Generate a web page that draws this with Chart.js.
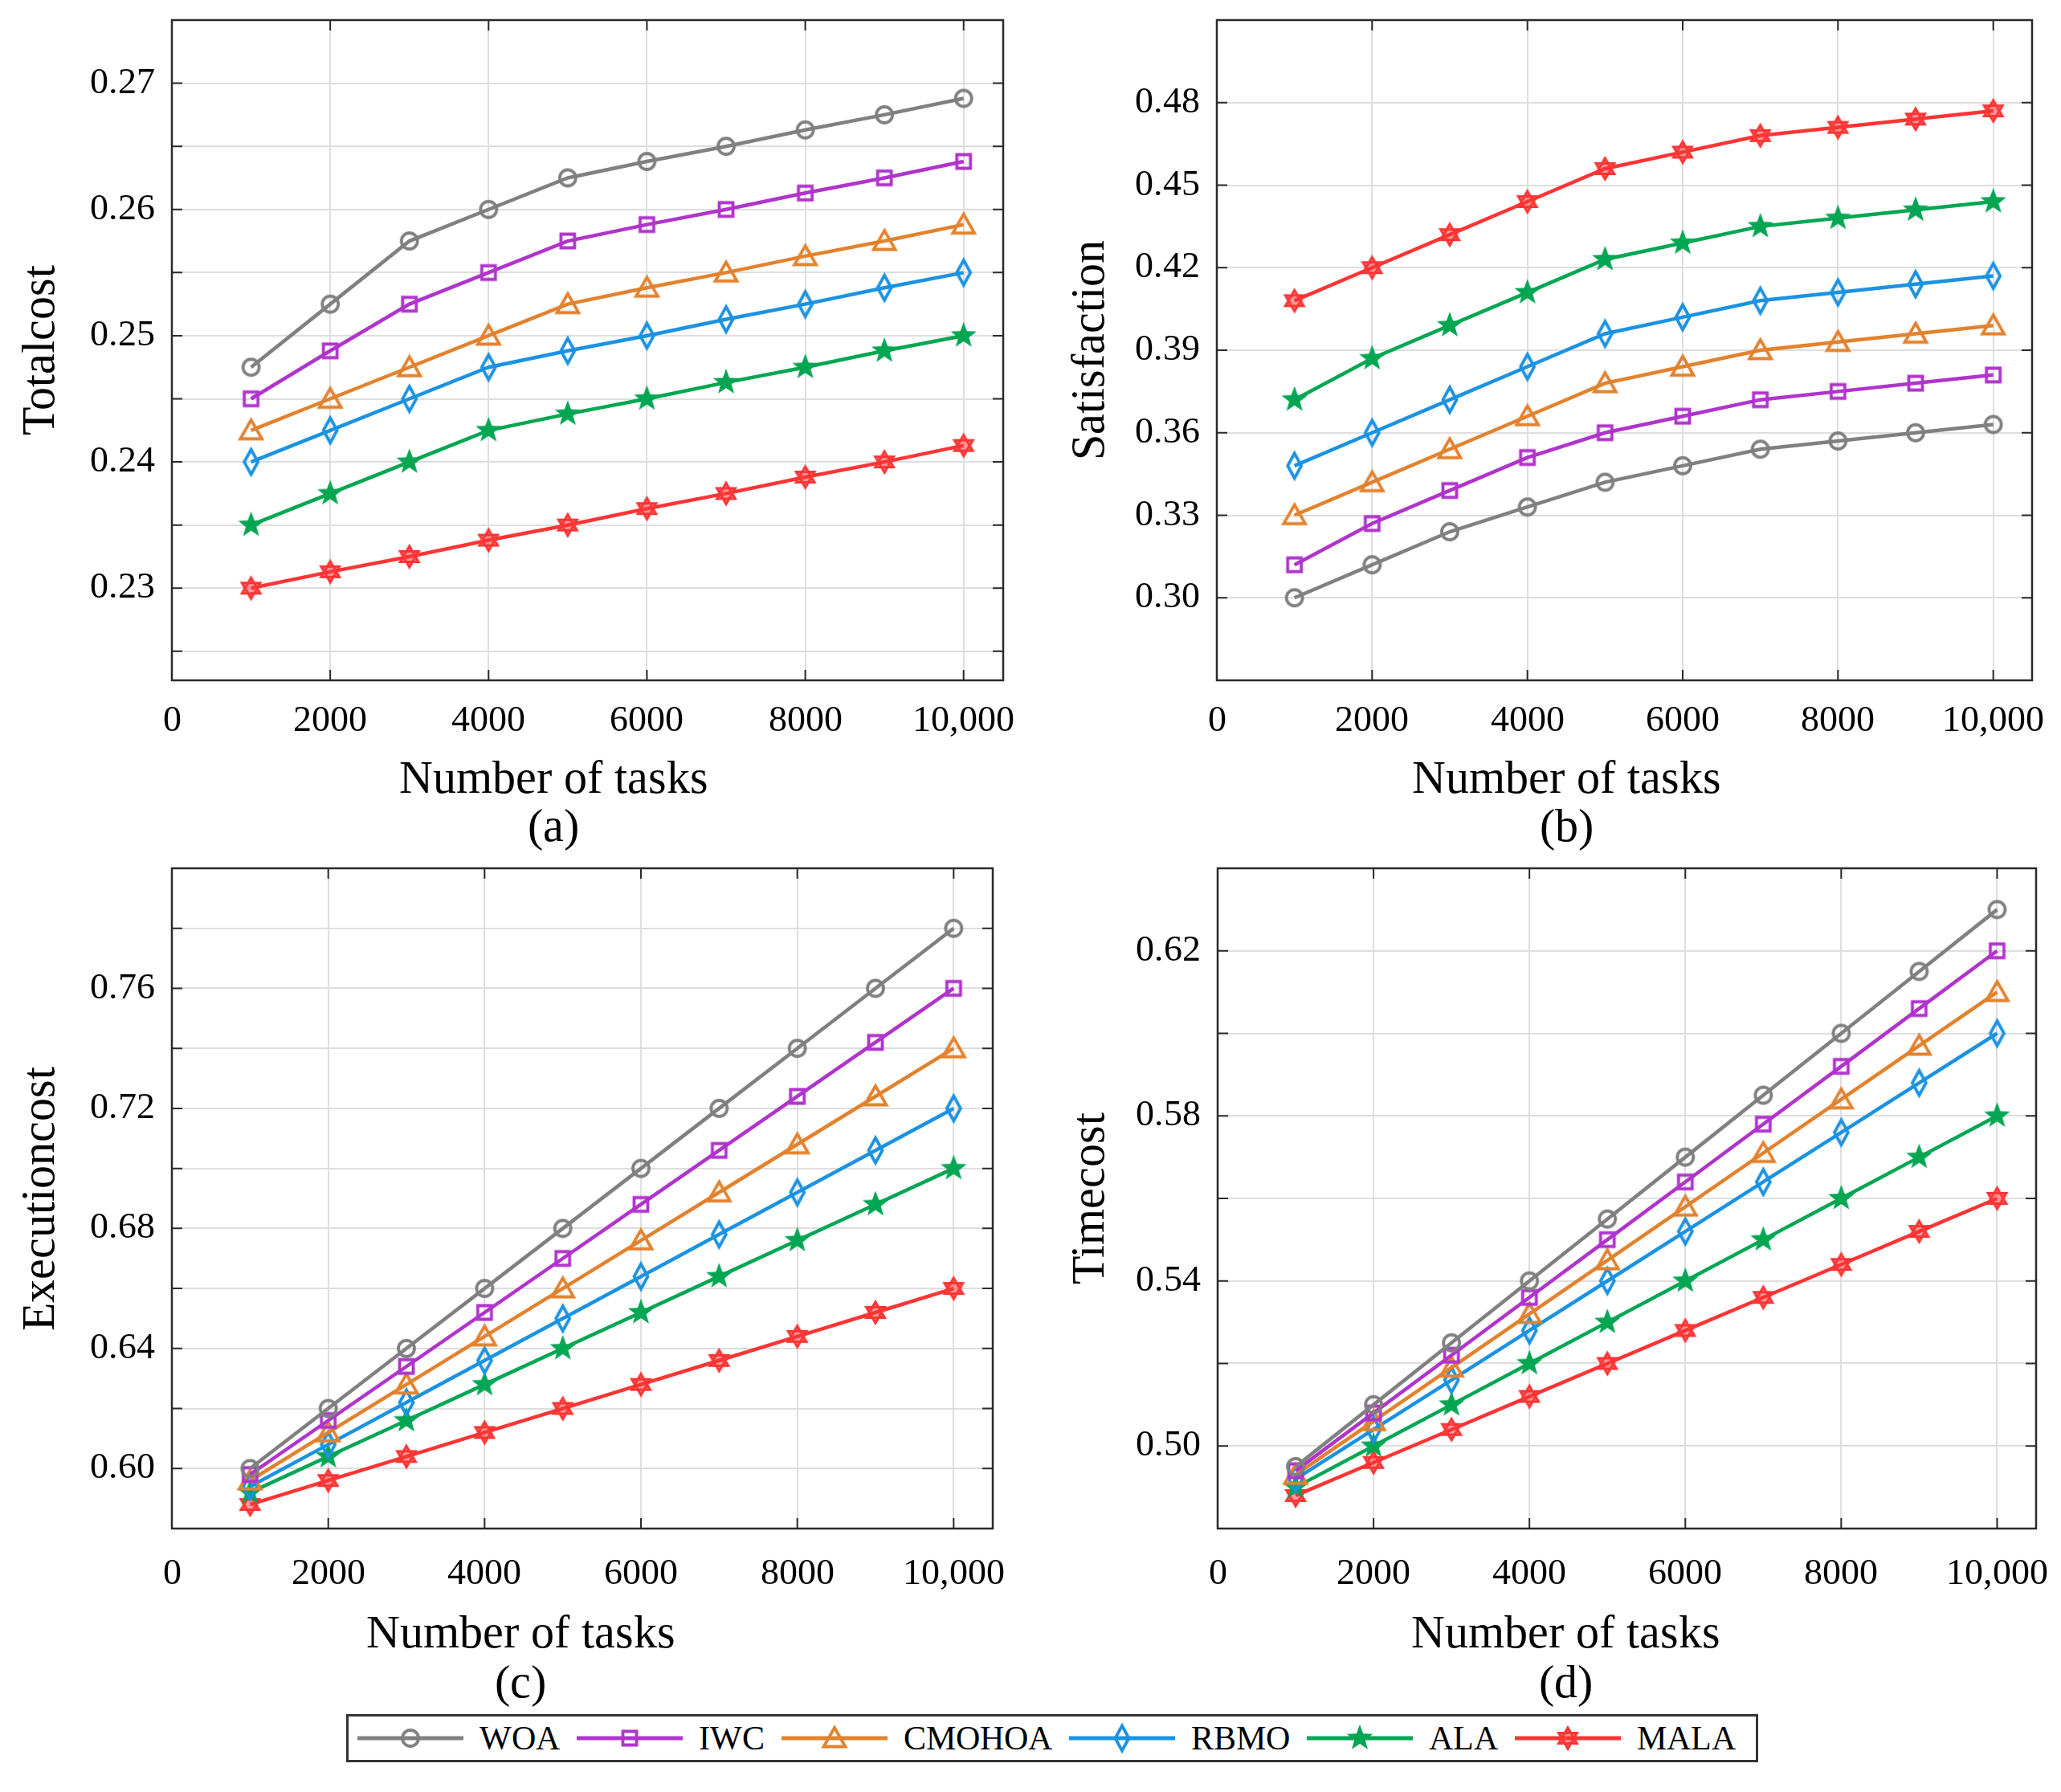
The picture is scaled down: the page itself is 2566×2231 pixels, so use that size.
<!DOCTYPE html>
<html>
<head>
<meta charset="utf-8">
<script src="https://cdn.jsdelivr.net/npm/chart.js@4.4.1/dist/chart.umd.min.js"></script>
<style>
  @font-face { font-family: 'FigSerif'; src: local('Liberation Serif'), local('LiberationSerif'), local('Liberation Serif Regular'), local('LiberationSerif-Regular'); }
  html, body { margin: 0; padding: 0; background: #fff; }
  body { width: 2566px; height: 2231px; position: relative; overflow: hidden; font-family: 'FigSerif', 'Liberation Serif', 'Times New Roman', serif; }
  canvas.panel { position: absolute; left: 0; top: 0; }
  .xlab { position: absolute; font-size: 58px; line-height: 1; color: #000; white-space: nowrap; transform: translate(-50%, -50%); }
  #legend { position: absolute; left: 431px; top: 2134px; width: 1758px; height: 60px; box-sizing: border-box;
            border: 3px solid #333; display: flex; align-items: center; padding-left: 11px; background: #fff; }
  #legend .item { display: flex; align-items: center; }
  #legend span { font-size: 42px; line-height: 1; margin: 0 21px 0 20px; color: #000; }
</style>
</head>
<body>
<canvas class="panel" id="chartA" width="2566" height="2231"></canvas>
<canvas class="panel" id="chartB" width="2566" height="2231"></canvas>
<canvas class="panel" id="chartC" width="2566" height="2231"></canvas>
<canvas class="panel" id="chartD" width="2566" height="2231"></canvas>

<div class="xlab" style="left:689px; top:968px;">Number of tasks</div>
<div class="xlab" style="left:689px; top:1028px;">(a)</div>
<div class="xlab" style="left:1950px; top:968px;">Number of tasks</div>
<div class="xlab" style="left:1950px; top:1028px;">(b)</div>
<div class="xlab" style="left:648px; top:2032px;">Number of tasks</div>
<div class="xlab" style="left:648px; top:2094px;">(c)</div>
<div class="xlab" style="left:1949px; top:2032px;">Number of tasks</div>
<div class="xlab" style="left:1949px; top:2094px;">(d)</div>

<div id="legend"></div>

<script>
// ---- data ----
const taskCounts = [1000, 2000, 3000, 4000, 5000, 6000, 7000, 8000, 9000, 10000];
const seriesNames = ['WOA', 'IWC', 'CMOHOA', 'RBMO', 'ALA', 'MALA'];

// rows follow seriesNames
const totalcost = [
    [0.2475, 0.2525, 0.2575, 0.2600, 0.2625, 0.2638, 0.2650, 0.2663, 0.2675, 0.2688],
    [0.2450, 0.2488, 0.2525, 0.2550, 0.2575, 0.2588, 0.2600, 0.2613, 0.2625, 0.2638],
    [0.2425, 0.2450, 0.2475, 0.2500, 0.2525, 0.2538, 0.2550, 0.2563, 0.2575, 0.2588],
    [0.2400, 0.2425, 0.2450, 0.2475, 0.2488, 0.2500, 0.2513, 0.2525, 0.2538, 0.2550],
    [0.2350, 0.2375, 0.2400, 0.2425, 0.2438, 0.2450, 0.2463, 0.2475, 0.2488, 0.2500],
    [0.2300, 0.2313, 0.2325, 0.2338, 0.2350, 0.2363, 0.2375, 0.2388, 0.2400, 0.2413]
];
const satisfaction = [
    [0.300, 0.312, 0.324, 0.333, 0.342, 0.348, 0.354, 0.357, 0.360, 0.363],
    [0.312, 0.327, 0.339, 0.351, 0.360, 0.366, 0.372, 0.375, 0.378, 0.381],
    [0.330, 0.342, 0.354, 0.366, 0.378, 0.384, 0.390, 0.393, 0.396, 0.399],
    [0.348, 0.360, 0.372, 0.384, 0.396, 0.402, 0.408, 0.411, 0.414, 0.417],
    [0.372, 0.387, 0.399, 0.411, 0.423, 0.429, 0.435, 0.438, 0.441, 0.444],
    [0.408, 0.420, 0.432, 0.444, 0.456, 0.462, 0.468, 0.471, 0.474, 0.477]
];
const executioncost = [
    [0.600, 0.620, 0.640, 0.660, 0.680, 0.700, 0.720, 0.740, 0.760, 0.780],
    [0.598, 0.616, 0.634, 0.652, 0.670, 0.688, 0.706, 0.724, 0.742, 0.760],
    [0.596, 0.612, 0.628, 0.644, 0.660, 0.676, 0.692, 0.708, 0.724, 0.740],
    [0.594, 0.608, 0.622, 0.636, 0.650, 0.664, 0.678, 0.692, 0.706, 0.720],
    [0.592, 0.604, 0.616, 0.628, 0.640, 0.652, 0.664, 0.676, 0.688, 0.700],
    [0.588, 0.596, 0.604, 0.612, 0.620, 0.628, 0.636, 0.644, 0.652, 0.660]
];
const timecost = [
    [0.495, 0.510, 0.525, 0.540, 0.555, 0.570, 0.585, 0.600, 0.615, 0.630],
    [0.494, 0.508, 0.522, 0.536, 0.550, 0.564, 0.578, 0.592, 0.606, 0.620],
    [0.493, 0.506, 0.519, 0.532, 0.545, 0.558, 0.571, 0.584, 0.597, 0.610],
    [0.492, 0.504, 0.516, 0.528, 0.540, 0.552, 0.564, 0.576, 0.588, 0.600],
    [0.490, 0.500, 0.510, 0.520, 0.530, 0.540, 0.550, 0.560, 0.570, 0.580],
    [0.488, 0.496, 0.504, 0.512, 0.520, 0.528, 0.536, 0.544, 0.552, 0.560]
];

// ---- ticks ----
const xTicks = [0, 2000, 4000, 6000, 8000, 10000];
const xTickLabels = ['0', '2000', '4000', '6000', '8000', '10,000'];
const xRange = [0, 10500];

const totalcostTicks = [0.225, 0.23, 0.235, 0.24, 0.245, 0.25, 0.255, 0.26, 0.265, 0.27, 0.275];
const totalcostLabels = ['', '0.23', '', '0.24', '', '0.25', '', '0.26', '', '0.27', ''];
const totalcostRange = [0.2227, 0.275];

const satisfactionTicks = [0.30, 0.33, 0.36, 0.39, 0.42, 0.45, 0.48];
const satisfactionLabels = ['0.30', '0.33', '0.36', '0.39', '0.42', '0.45', '0.48'];
const satisfactionRange = [0.27, 0.51];

const executionTicks = [0.58, 0.60, 0.62, 0.64, 0.66, 0.68, 0.70, 0.72, 0.74, 0.76, 0.78, 0.80];
const executionLabels = ['', '0.60', '', '0.64', '', '0.68', '', '0.72', '', '0.76', '', ''];
const executionRange = [0.58, 0.80];

const timeTicks = [0.48, 0.50, 0.52, 0.54, 0.56, 0.58, 0.60, 0.62, 0.64];
const timeLabels = ['', '0.50', '', '0.54', '', '0.58', '', '0.62', ''];
const timeRange = [0.48, 0.64];

// ---- styles ----
const seriesColors = ['#808080', '#b034cc', '#e3822e', '#1b92e2', '#00a652', '#ff3535'];
const seriesMarkers = ['circle', 'square', 'triangle', 'diamond', 'star5', 'hexagram'];
const FONT = "FigSerif, 'Liberation Serif', 'Times New Roman', 'DejaVu Serif', serif";
Chart.defaults.font.family = FONT;

function drawMarker(ctx, kind, color, cx, cy) {
    ctx.save();
    ctx.strokeStyle = color;
    ctx.fillStyle = color;
    ctx.lineWidth = 3.8;
    ctx.lineJoin = 'miter';
    ctx.beginPath();
    if (kind === 'circle') {
        ctx.arc(cx, cy, 10, 0, Math.PI * 2);
        ctx.stroke();
    } else if (kind === 'square') {
        ctx.rect(cx - 8.5, cy - 8.5, 17, 17);
        ctx.stroke();
    } else if (kind === 'triangle') {
        ctx.moveTo(cx, cy - 13);
        ctx.lineTo(cx + 13.5, cy + 10.5);
        ctx.lineTo(cx - 13.5, cy + 10.5);
        ctx.closePath();
        ctx.stroke();
    } else if (kind === 'diamond') {
        ctx.moveTo(cx, cy - 15.5);
        ctx.lineTo(cx + 8.5, cy);
        ctx.lineTo(cx, cy + 15.5);
        ctx.lineTo(cx - 8.5, cy);
        ctx.closePath();
        ctx.stroke();
    } else if (kind === 'star5') {
        for (let i = 0; i < 10; i++) {
            const r = i % 2 === 0 ? 17 : 7;
            const a = -Math.PI / 2 + i * Math.PI / 5;
            const px = cx + r * Math.cos(a), py = cy + r * Math.sin(a);
            if (i === 0) ctx.moveTo(px, py); else ctx.lineTo(px, py);
        }
        ctx.closePath();
        ctx.fill();
    } else if (kind === 'hexagram') {
        ctx.lineWidth = 3.2;
        for (let t = 0; t < 2; t++) {
            const off = t === 0 ? -Math.PI / 2 : Math.PI / 2;
            for (let i = 0; i < 3; i++) {
                const a = off + i * 2 * Math.PI / 3;
                const px = cx + 13 * Math.cos(a), py = cy + 13 * Math.sin(a);
                if (i === 0) ctx.moveTo(px, py); else ctx.lineTo(px, py);
            }
            ctx.closePath();
        }
        ctx.globalAlpha = 0.5;
        ctx.fill();
        ctx.globalAlpha = 1;
        ctx.stroke();
    }
    ctx.restore();
}

function markerCanvas(kind, color) {
    const c = document.createElement('canvas');
    c.width = 44; c.height = 44;
    drawMarker(c.getContext('2d'), kind, color, 22, 22);
    return c;
}
const markerImages = seriesMarkers.map((m, i) => markerCanvas(m, seriesColors[i]));

// MATLAB-like box with inner tick marks
const boxPlugin = {
    id: 'boxTicks',
    afterDraw(chart) {
        const {ctx, chartArea: a} = chart;
        const xs = chart.scales.x, ys = chart.scales.y;
        const len = 13;
        ctx.save();
        ctx.strokeStyle = '#2a2a2a';
        ctx.lineWidth = 2;
        ctx.beginPath();
        ys.ticks.forEach(t => {
            const y = ys.getPixelForValue(t.value);
            ctx.moveTo(a.left, y); ctx.lineTo(a.left + len, y);
            ctx.moveTo(a.right, y); ctx.lineTo(a.right - len, y);
        });
        xs.ticks.forEach(t => {
            const x = xs.getPixelForValue(t.value);
            ctx.moveTo(x, a.bottom); ctx.lineTo(x, a.bottom - len);
            ctx.moveTo(x, a.top); ctx.lineTo(x, a.top + len);
        });
        ctx.stroke();
        ctx.lineWidth = 2.5;
        ctx.strokeRect(a.left, a.top, a.right - a.left, a.bottom - a.top);
        ctx.restore();
    }
};

const Y_AXIS_W = 214;
const X_AXIS_H = 100;

function buildPanel(id, area, values, yTicks, yLabels, yRange, yTitle, titlePad, xPad) {
    const datasets = seriesNames.map((name, s) => ({
        label: name,
        data: taskCounts.map((x, i) => ({x: x, y: values[s][i]})),
        borderColor: seriesColors[s],
        backgroundColor: seriesColors[s],
        borderWidth: 4.5,
        pointStyle: markerImages[s],
        pointRadius: 12,
        tension: 0
    }));

    return new Chart(document.getElementById(id).getContext('2d'), {
        type: 'line',
        data: { datasets: datasets },
        options: {
            responsive: false,
            animation: false,
            devicePixelRatio: 1,
            layout: {
                padding: {
                    left: area.l - Y_AXIS_W,
                    right: 2566 - area.r,
                    top: area.t,
                    bottom: 2231 - area.b - X_AXIS_H
                }
            },
            plugins: { legend: { display: false }, tooltip: { enabled: false } },
            scales: {
                x: {
                    type: 'linear',
                    min: xRange[0],
                    max: xRange[1],
                    afterBuildTicks: scale => { scale.ticks = xTicks.map(v => ({value: v})); },
                    afterFit: scale => {
                        scale.height = X_AXIS_H;
                        scale.paddingLeft = 0;
                        scale.paddingRight = 0;
                    },
                    grid: { color: '#dedede', lineWidth: 2, drawTicks: false },
                    border: { display: false },
                    ticks: {
                        padding: xPad,
                        maxRotation: 0,
                        autoSkip: false,
                        color: '#000',
                        font: { family: FONT, size: 46 },
                        callback: (v, i) => xTickLabels[i]
                    }
                },
                y: {
                    type: 'linear',
                    min: yRange[0],
                    max: yRange[1],
                    afterBuildTicks: scale => { scale.ticks = yTicks.map(v => ({value: v})); },
                    afterFit: scale => {
                        scale.width = Y_AXIS_W;
                        scale.paddingTop = 0;
                        scale.paddingBottom = 0;
                    },
                    grid: { color: '#dedede', lineWidth: 2, drawTicks: false },
                    border: { display: false },
                    ticks: {
                        padding: 21,
                        autoSkip: false,
                        color: '#000',
                        font: { family: FONT, size: 46 },
                        callback: (v, i) => yLabels[i]
                    },
                    title: {
                        display: true,
                        text: yTitle,
                        color: '#000',
                        font: { family: FONT, size: 58 },
                        padding: { top: titlePad, bottom: 0 }
                    }
                }
            }
        },
        plugins: [boxPlugin]
    });
}

function buildAll() {
    buildPanel('chartA', {l: 214, r: 1249, t: 25, b: 847}, totalcost,
        totalcostTicks, totalcostLabels, totalcostRange, 'Totalcost', 17, 23);
    buildPanel('chartB', {l: 1515, r: 2530, t: 25, b: 847}, satisfaction,
        satisfactionTicks, satisfactionLabels, satisfactionRange, 'Satisfaction', 23, 23);
    buildPanel('chartC', {l: 214, r: 1236, t: 1081, b: 1903}, executioncost,
        executionTicks, executionLabels, executionRange, 'Executioncost', 17, 29);
    buildPanel('chartD', {l: 1516, r: 2535, t: 1081, b: 1903}, timecost,
        timeTicks, timeLabels, timeRange, 'Timecost', 22, 29);
}

// shared legend below the bottom panels
const legend = document.getElementById('legend');
seriesNames.forEach((name, s) => {
    const item = document.createElement('div');
    item.className = 'item';
    const icon = document.createElement('canvas');
    icon.width = 132; icon.height = 44;
    const ictx = icon.getContext('2d');
    ictx.strokeStyle = seriesColors[s];
    ictx.lineWidth = 5;
    ictx.beginPath();
    ictx.moveTo(0, 22); ictx.lineTo(132, 22);
    ictx.stroke();
    drawMarker(ictx, seriesMarkers[s], seriesColors[s], 66, 22);
    const label = document.createElement('span');
    label.textContent = name;
    item.appendChild(icon);
    item.appendChild(label);
    legend.appendChild(item);
});

// wait for the serif face so canvas text does not fall back
window.addEventListener('load', () => {
    Promise.all([
        document.fonts.load('46px FigSerif'),
        document.fonts.load('58px FigSerif')
    ]).then(buildAll, buildAll);
});
</script>
</body>
</html>
